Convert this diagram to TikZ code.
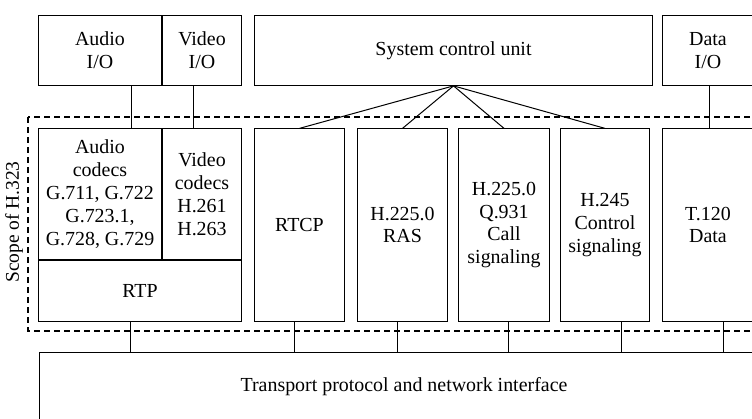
\documentclass[tikz,border=0pt]{standalone}
\usepackage{fontspec}
\setmainfont{Liberation Serif}
\usetikzlibrary{calc}

\tikzset{
  blk/.style={draw, line width=0.9bp, inner sep=0pt, outer sep=0pt, align=center,
    font=\fontsize{20}{23}\selectfont},
  scopeline/.style={line width=1.2bp, dash pattern=on 6bp off 4bp},
  link/.style={line width=1bp}
}

\begin{document}
\begin{tikzpicture}[x=1bp, y=-1bp]
  %%%%% START %%%%%
  \useasboundingbox (0,0) rectangle (752,418);
  \clip (0,0) rectangle (752,418);

  % scope of the recommendation
  \draw[scopeline] (28,117) rectangle (770,331);
  \node[rotate=90, font=\fontsize{19.5}{22}\selectfont] (scope) at (14,222) {Scope of H.323};

  % top row
  \node[blk, minimum width=124, minimum height=71] (aio) at (100,50.5) {Audio\\I/O};
  \node[blk, minimum width=80, minimum height=71] (vio) at (202,50.5) {Video\\I/O};
  \node[blk, minimum width=399, minimum height=71] (scu) at (453.5,50.5) {System control unit};
  \node[blk, minimum width=92, minimum height=71] (dio) at (708,50.5) {Data\\I/O};

  % codecs and RTP
  \node[blk, minimum width=124, minimum height=132] (acod) at (100,194)
    {Audio\\codecs\\G.711, G.722\\G.723.1,\\G.728, G.729};
  \node[blk, minimum width=80, minimum height=132] (vcod) at (202,194)
    {Video\\codecs\\H.261\\H.263};
  \node[blk, minimum width=204, minimum height=62] (rtp) at (140,291) {RTP};
  \draw[line width=2.2bp] (acod.south west) -- (vcod.south east);

  % signalling columns
  \node[blk, minimum width=91, minimum height=194] (rtcp) at (299.5,225) {RTCP};
  \node[blk, minimum width=91, minimum height=194] (ras) at (402.5,225) {H.225.0\\RAS};
  \node[blk, minimum width=92, minimum height=194] (call) at (504,225)
    {H.225.0\\Q.931\\Call\\signaling};
  \node[blk, minimum width=90, minimum height=194] (hctl) at (605,225)
    {H.245\\Control\\signaling};
  \node[blk, minimum width=92, minimum height=194] (tdat) at (708,225) {T.120\\Data};

  % transport
  \node[blk, minimum width=732, minimum height=70] (tpt) at (404,387)
    {Transport protocol and network interface};

  % I/O to codecs
  \draw[link] ([xshift=31bp]aio.south) -- ([xshift=31bp]aio.south |- acod.north);
  \draw[link] ([xshift=-9bp]vio.south) -- ([xshift=-9bp]vio.south |- vcod.north);
  \draw[link] ([xshift=1bp]dio.south) -- ([xshift=1bp]dio.south |- tdat.north);

  % system control fan-out
  \foreach \n in {rtcp,ras,call,hctl}
    \draw[link] (scu.south) -- (\n.north);

  % down to transport
  \foreach \n/\dx in {rtp/-10,rtcp/-5.5,ras/-5.5,call/4,hctl/16,tdat/15}
    \draw[link] ([xshift=\dx bp]\n.south) -- ([xshift=\dx bp]\n.south |- tpt.north);
  %%%%% END %%%%%
\end{tikzpicture}
\end{document}
